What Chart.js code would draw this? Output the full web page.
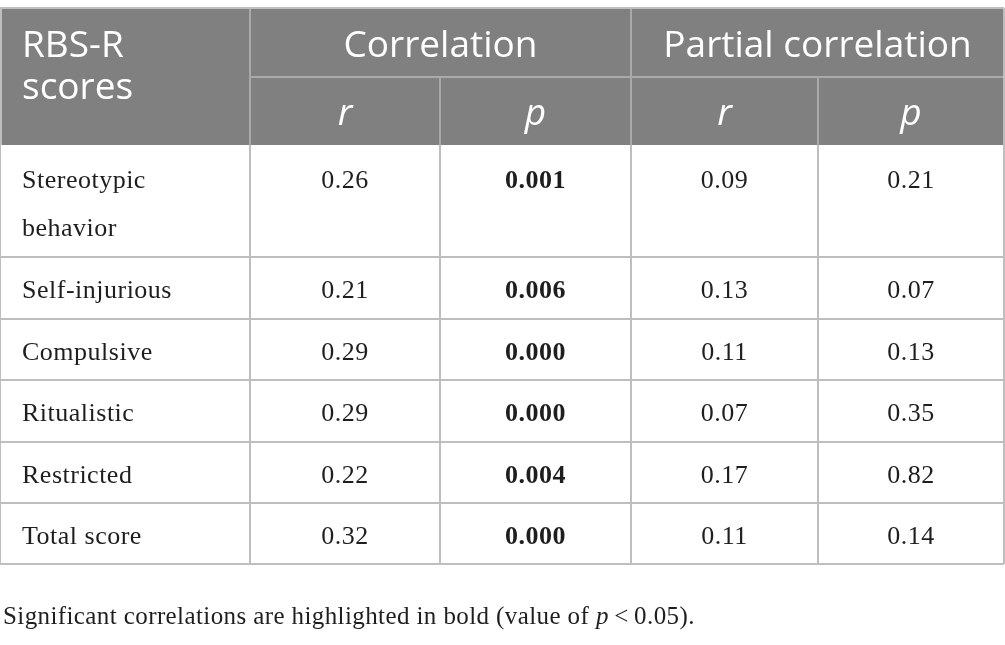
<!DOCTYPE html>
<html>
<head>
<meta charset="utf-8">
<script src="https://cdn.jsdelivr.net/npm/chart.js@4.4.1/dist/chart.umd.min.js"></script>
<style>
  html, body { margin: 0; padding: 0; background: #fff; overflow: hidden; }
  canvas { display: block; }
</style>
</head>
<body>
<canvas id="table" width="1005" height="645"></canvas>
<script>
// table content
const categories = [['Stereotypic', 'behavior'], ['Self-injurious'], ['Compulsive'], ['Ritualistic'], ['Restricted'], ['Total score']];
const corrR = [0.26, 0.21, 0.29, 0.29, 0.22, 0.32];
const corrP = [0.001, 0.006, 0.000, 0.000, 0.004, 0.000];
const partR = [0.09, 0.13, 0.11, 0.07, 0.17, 0.11];
const partP = [0.21, 0.07, 0.13, 0.35, 0.82, 0.14];
const firstHeader = ['RBS-R', 'scores'];
const groupHeaders = ['Correlation', 'Partial correlation'];
const subHeaders = ['r', 'p', 'r', 'p'];
const footnoteParts = ['Significant correlations are highlighted in bold (value of ', 'p', '\u2009<\u20090.05).'];

// layout, in page units (the scales map them onto the canvas)
const colEdges = [0, 250, 440, 631, 818, 1004];
const headTop = 8, headMid = 77, headBottom = 145;
const rowEdges = [145, 257, 319, 380, 442, 503, 564];

const columns = [
  { values: corrR, digits: 2, boldSig: false },
  { values: corrP, digits: 3, boldSig: true },
  { values: partR, digits: 2, boldSig: false },
  { values: partP, digits: 2, boldSig: true }
];

const SANS = '"Open Sans", "Noto Sans", sans-serif';
const SERIF = '"Liberation Serif", "DejaVu Serif", serif';

const tablePlugin = {
  id: 'tableDraw',
  afterDraw(chart) {
    const { ctx, scales: { x, y } } = chart;
    const px = v => x.getPixelForValue(v);
    const py = v => y.getPixelForValue(v);
    const left = px(colEdges[0]), right = px(colEdges[colEdges.length - 1]);
    const line = (x1, y1, x2, y2) => {
      ctx.beginPath();
      ctx.moveTo(px(x1), py(y1));
      ctx.lineTo(px(x2), py(y2));
      ctx.stroke();
    };
    ctx.save();

    // header band
    ctx.fillStyle = '#808080';
    ctx.fillRect(left, py(headTop), right - left, py(headBottom) - py(headTop));

    // header grid
    ctx.strokeStyle = '#a9a9a9';
    ctx.lineWidth = 2;
    line(colEdges[1], headMid, colEdges[5], headMid);
    line(colEdges[1], headTop, colEdges[1], headBottom);
    line(colEdges[3], headTop, colEdges[3], headBottom);
    line(colEdges[2], headMid, colEdges[2], headBottom);
    line(colEdges[4], headMid, colEdges[4], headBottom);

    // body grid
    ctx.strokeStyle = '#bebebe';
    rowEdges.slice(1).forEach(r => line(colEdges[0], r, colEdges[5], r));
    colEdges.forEach(c => line(c, headBottom, c, rowEdges[rowEdges.length - 1]));
    line(colEdges[0] + 1, headTop, colEdges[0] + 1, headBottom);
    line(colEdges[5], headTop, colEdges[5], headBottom);
    line(colEdges[0], headTop, colEdges[5], headTop);

    // header text
    ctx.fillStyle = '#ffffff';
    ctx.textBaseline = 'alphabetic';
    ctx.font = '37px ' + SANS;
    ctx.textAlign = 'left';
    ctx.fillText(firstHeader[0], px(22), py(57));
    ctx.fillText(firstHeader[1], px(22), py(99));
    ctx.textAlign = 'center';
    ctx.fillText(groupHeaders[0], (px(colEdges[1]) + px(colEdges[3])) / 2, py(57));
    ctx.fillText(groupHeaders[1], (px(colEdges[3]) + px(colEdges[5])) / 2, py(57));
    ctx.font = 'italic 37px ' + SANS;
    subHeaders.forEach((s, i) => {
      ctx.fillText(s, (px(colEdges[i + 1]) + px(colEdges[i + 2])) / 2, py(125));
    });

    // body text
    ctx.fillStyle = '#1e1e1e';
    ctx.letterSpacing = '0.5px';
    categories.forEach((lines, r) => {
      const base = rowEdges[r] + (r === 0 ? 43 : 41);
      ctx.font = '26px ' + SERIF;
      ctx.textAlign = 'left';
      lines.forEach((t, k) => ctx.fillText(t, px(22), py(base + k * 48)));
      ctx.textAlign = 'center';
      columns.forEach((col, c) => {
        const v = col.values[r];
        const bold = col.boldSig && v < 0.05;
        ctx.font = (bold ? 'bold ' : '') + '26px ' + SERIF;
        ctx.fillText(v.toFixed(col.digits), (px(colEdges[c + 1]) + px(colEdges[c + 2])) / 2, py(base));
      });
    });

    // footnote
    ctx.textAlign = 'left';
    ctx.letterSpacing = '0.4px';
    let fx = px(3);
    footnoteParts.forEach((t, i) => {
      ctx.font = (i === 1 ? 'italic ' : '') + '25px ' + SERIF;
      ctx.fillText(t, fx, py(624));
      fx += ctx.measureText(t).width;
    });

    ctx.restore();
  }
};

new Chart(document.getElementById('table'), {
  type: 'scatter',
  data: { datasets: [{ data: [], pointRadius: 0 }] },
  plugins: [tablePlugin],
  options: {
    responsive: false,
    devicePixelRatio: 1,
    animation: false,
    layout: { padding: 0 },
    plugins: { legend: { display: false }, tooltip: { enabled: false } },
    scales: {
      x: { type: 'linear', min: 0, max: 1005, display: false },
      y: { type: 'linear', min: 0, max: 645, reverse: true, display: false }
    }
  }
});
</script>
</body>
</html>
